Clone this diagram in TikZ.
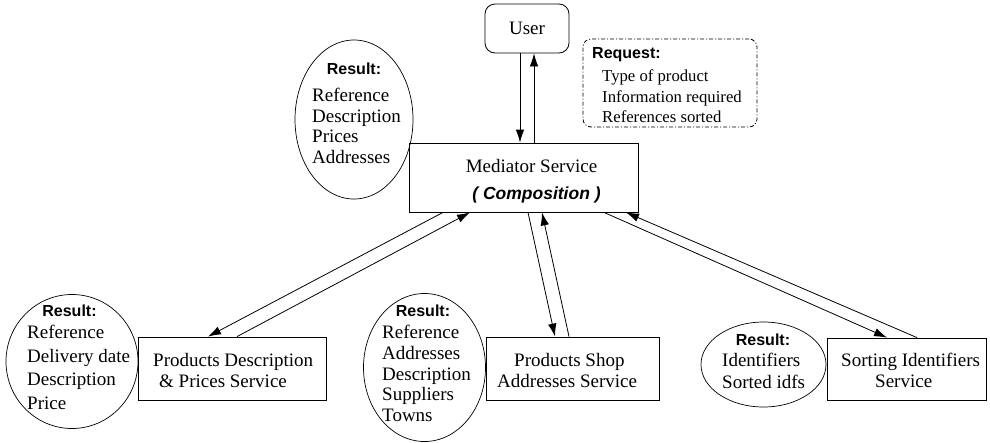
\documentclass[tikz,border=0pt]{standalone}
\usepackage{fontspec}
\setmainfont{Liberation Serif}
\newfontfamily\hv{Liberation Sans}
\usetikzlibrary{arrows.meta,shapes.geometric}
\tikzset{
  svc/.style={draw, line width=0.8pt, inner sep=0pt},
  res/.style={draw, ellipse, line width=0.7pt, inner sep=0pt},
  tx/.style={inner sep=0pt, anchor=base west, font=\fontsize{19}{20}\selectfont},
  hd/.style={inner sep=0pt, anchor=base, font=\hv\bfseries\fontsize{16}{18}\selectfont},
  rq/.style={inner sep=0pt, anchor=base west, font=\fontsize{16.7}{18}\selectfont},
  arr/.style={-{Latex[length=13pt,width=8.5pt]}, line width=0.8pt},
}
\begin{document}
\begin{tikzpicture}[x=1pt,y=-1pt]
\useasboundingbox (0,0) rectangle (990,442);
% boxes
\node[svc, rounded corners=10pt, minimum width=84pt, minimum height=49pt,
      font=\fontsize{19}{20}\selectfont] (user) at (527,28.5) {User};
\node[svc, minimum width=229pt, minimum height=69pt] (med) at (523.5,177.5) {};
\node[svc, minimum width=188pt, minimum height=63pt] (pd) at (232,368.5) {};
\node[svc, minimum width=173pt, minimum height=63pt] (shop) at (572.5,368.5) {};
\node[svc, minimum width=159pt, minimum height=62pt] (sort) at (906.5,369) {};
\node[draw, rounded corners=8pt, dash pattern=on 4pt off 2pt on 1pt off 2pt,
      line width=0.8pt, minimum width=174pt, minimum height=88pt, inner sep=0pt] (req) at (670,83) {};
% ellipses
\node[res, minimum width=118pt, minimum height=159pt] (r0) at (354,119.5) {};
\node[res, minimum width=132pt, minimum height=134pt] (r1) at (72,361.5) {};
\node[res, minimum width=122pt, minimum height=148pt] (r2) at (424.5,367.5) {};
\node[res, minimum width=125pt, minimum height=85pt] (r3) at (763.5,364.5) {};
% mediator text
\node[inner sep=0pt, anchor=base, font=\fontsize{19}{20}\selectfont] (m1) at (531.5,172) {Mediator Service};
\node[inner sep=0pt, anchor=base, font=\hv\bfseries\itshape\fontsize{17.5}{18}\selectfont] (m2) at (536.5,199.5) {( Composition )};
% request text
\node[inner sep=0pt, anchor=base west, font=\hv\bfseries\fontsize{16}{18}\selectfont] (q0) at (592,58.3) {Request:};
\node[rq] (q1) at (602,81.7) {Type of product};
\node[rq] (q2) at (602,102.2) {Information required};
\node[rq] (q3) at (602,122) {References sorted};
% result top-left
\node[hd] (a0) at (354,74) {Result:};
\node[tx] (a1) at (312,101.7) {Reference};
\node[tx] (a2) at (312,122.2) {Description};
\node[tx] (a3) at (312,142.7) {Prices};
\node[tx] (a4) at (312,163.5) {Addresses};
% result bottom-left
\node[hd] (b0) at (69.5,316.7) {Result:};
\node[tx] (b1) at (27,338.3) {Reference};
\node[tx] (b2) at (27,362.5) {Delivery date};
\node[tx] (b3) at (27,385.5) {Description};
\node[tx] (b4) at (27,409.3) {Price};
% result middle
\node[hd] (c0) at (423,316.7) {Result:};
\node[tx] (c1) at (382,338.3) {Reference};
\node[tx] (c2) at (382,359.3) {Addresses};
\node[tx] (c3) at (382,380) {Description};
\node[tx] (c4) at (382,400.7) {Suppliers};
\node[tx] (c5) at (382,421) {Towns};
% result right
\node[hd] (d0) at (763,345) {Result:};
\node[tx] (d1) at (722,366) {Identifiers};
\node[tx] (d2) at (722,388) {Sorted idfs};
% service texts
\node[tx] (p1) at (153,366) {Products Description};
\node[tx] (p2) at (159,387) {\& Prices Service};
\node[tx] (s1) at (514,366) {Products Shop};
\node[tx] (s2) at (497,387.5) {Addresses Service};
\node[tx] (o1) at (841,366) {Sorting Identifiers};
\node[tx] (o2) at (875,387) {Service};
% arrows
\draw[arr] ([xshift=-7pt]user.south) -- ([xshift=-3.5pt]med.north);
\draw[arr] ([xshift=10.5pt]med.north) -- ([xshift=7pt]user.south);
\draw[arr] ([xshift=-80.5pt]med.south) -- ([xshift=-24pt]pd.north);
\draw[arr] ([xshift=5pt]pd.north) -- ([xshift=-53.5pt]med.south);
\draw[arr] ([xshift=4.5pt]med.south) -- ([xshift=-17.5pt]shop.north);
\draw[arr] ([xshift=-3.5pt]shop.north) -- ([xshift=18.5pt]med.south);
\draw[arr] ([xshift=80.5pt]med.south) -- ([xshift=-19.5pt]sort.north);
\draw[arr] ([xshift=10.5pt]sort.north) -- ([xshift=102.5pt]med.south);
\end{tikzpicture}
\end{document}
